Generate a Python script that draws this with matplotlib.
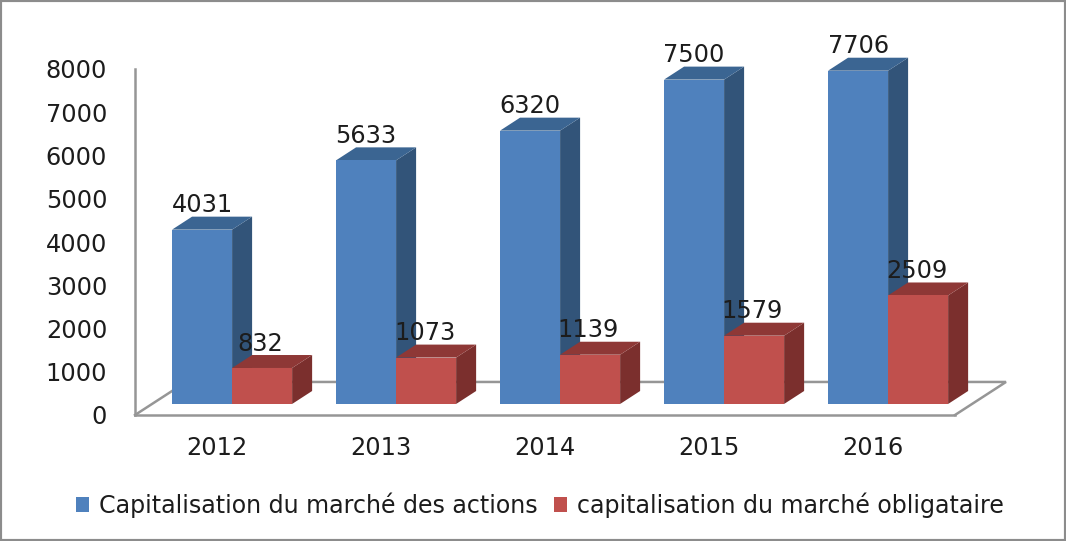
import matplotlib
matplotlib.use("Agg")
import matplotlib.pyplot as plt
from matplotlib.patches import Patch, Polygon, Rectangle

# Donnees
annees = ["2012", "2013", "2014", "2015", "2016"]
actions = [4031, 5633, 6320, 7500, 7706]
obligations = [832, 1073, 1139, 1579, 2509]
noms = ["Capitalisation du marché des actions", "capitalisation du marché obligataire"]
yticks = [0, 1000, 2000, 3000, 4000, 5000, 6000, 7000, 8000]

W, H = 1066, 541
fig = plt.figure(figsize=(W / 100, H / 100), dpi=100)
ax = fig.add_axes([135 / W, 1 - 415 / H, 820 / W, 346 / H])
ax.set_xlim(-0.5, 4.5)
ax.set_ylim(0, 8000)

gris = "#969696"
texte = "#1c1c1c"
largeur = 0.366      # largeur d'une barre
prof_x = 0.122       # profondeur de la barre
prof_y = 300
base = 255           # la barre commence au dessus du bord avant du sol
sol_x = 0.311
sol_y = 764
taille = 17.3


def barre(x, val, front, top, side):
    x2 = x + largeur
    h = base + val
    ax.add_patch(Polygon([(x2, base), (x2 + prof_x, base + prof_y), (x2 + prof_x, h + prof_y), (x2, h)],
                         fc=side, ec="none", zorder=3, clip_on=False))
    ax.add_patch(Polygon([(x, h), (x + prof_x, h + prof_y), (x2 + prof_x, h + prof_y), (x2, h)],
                         fc=top, ec="none", zorder=3, clip_on=False))
    ax.add_patch(Rectangle((x, base), largeur, val, fc=front, ec="none", zorder=4, clip_on=False))


# Sol en perspective
ax.plot([-0.5, -0.5 + sol_x, 4.5 + sol_x, 4.5], [0, sol_y, sol_y, 0], color=gris, lw=1.8,
        clip_on=False, zorder=1, solid_joinstyle="miter")

for i in range(len(annees)):
    x1 = i - 0.274
    x2 = x1 + largeur
    barre(x1, actions[i], "#4f81bd", "#3b6592", "#325479")
    barre(x2, obligations[i], "#c0504d", "#8e3836", "#7b2f2d")
    ax.text(x1 + largeur / 2, base + actions[i] + 565, str(actions[i]), ha="center", va="center",
            fontsize=taille, color=texte, zorder=6, clip_on=False)
    ax.text(x2 + largeur / 2 - 0.01, base + obligations[i] + 565, str(obligations[i]), ha="center", va="center",
            fontsize=taille, color=texte, zorder=6, clip_on=False)

ax.set_yticks(yticks)
ax.set_xticks(range(len(annees)))
ax.set_xticklabels(annees)
ax.tick_params(axis="y", length=0, pad=20, labelsize=taille, labelcolor=texte)
ax.tick_params(axis="x", length=0, pad=15, labelsize=taille, labelcolor=texte)
for s in ["top", "right"]:
    ax.spines[s].set_visible(False)
for s in ["left", "bottom"]:
    ax.spines[s].set_color(gris)
    ax.spines[s].set_linewidth(1.8)
ax.patch.set_alpha(0)

# Legende
poignees = [Patch(fc="#4f81bd", ec="none"), Patch(fc="#c0504d", ec="none")]
fig.legend(poignees, noms, ncols=2, loc="center", bbox_to_anchor=(540 / W, 1 - 505 / H), frameon=False,
           fontsize=17.1, labelcolor=texte, handlelength=0.55, handleheight=0.55, handletextpad=0.42,
           columnspacing=0.72, borderpad=0, borderaxespad=0)

# Cadre
fig.add_artist(Rectangle((0, 0), 1, 1, transform=fig.transFigure, fill=False, ec="#8c8c8c", lw=3))

fig.savefig("out.png", dpi=100)
